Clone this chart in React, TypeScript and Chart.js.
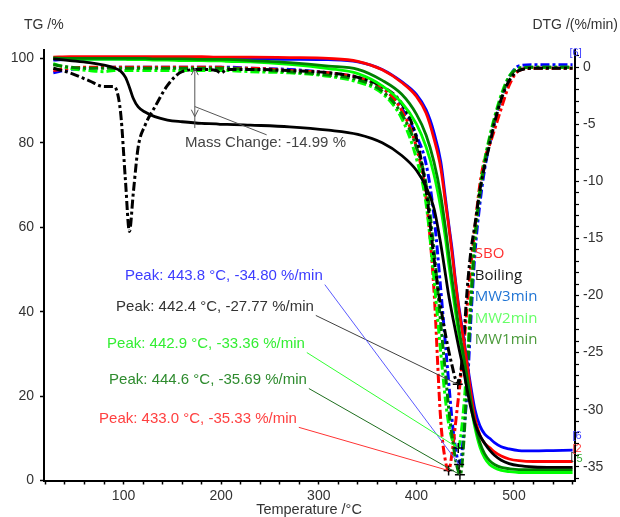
import React, { useEffect, useRef } from "react";
import { Chart, registerables } from "chart.js";

Chart.register(...registerables);

// ---------- data ----------
const seriesNames = ["SBO", "Boiling", "MW3min", "MW2min", "MW1min"];

const temperatures = [28, 45, 65, 80, 90, 97, 102, 106, 110, 115, 122, 132, 145, 160, 180, 195, 200, 206, 230, 270, 310, 340, 365, 385, 400, 410, 418, 425, 430, 433, 437, 440, 443, 445, 448, 452, 456, 460, 465, 470, 475, 480, 487, 495, 505, 520, 540, 560];

const tgSBO = [100.3, 100.4, 100.4, 100.4, 100.4, 100.4, 100.4, 100.4, 100.4, 100.4, 100.4, 100.4, 100.4, 100.4, 100.4, 100.3, 100.3, 100.3, 100.3, 100.2, 100.0, 99.3, 97.3, 94.3, 91.0, 87.0, 81.0, 74.0, 65.5, 60.5, 53.0, 47.0, 41.5, 38.3, 33.8, 27.5, 20.5, 14.8, 10.8, 8.8, 7.8, 6.8, 5.8, 5.1, 4.7, 4.5, 4.5, 4.5];
const tgBoiling = [99.9, 99.5, 99.0, 98.4, 97.8, 97.0, 95.5, 93.2, 90.5, 88.5, 87.3, 86.2, 85.4, 85.0, 84.6, 84.5, 84.4, 84.4, 84.2, 83.8, 83.0, 82.0, 80.0, 77.0, 73.5, 69.5, 64.5, 56.0, 48.5, 44.0, 39.0, 35.5, 32.0, 29.8, 26.5, 21.5, 17.0, 13.5, 10.7, 8.8, 7.2, 6.0, 4.8, 4.0, 3.5, 3.2, 3.1, 3.1];
const tgMW3 = [99.6, 99.8, 99.9, 99.9, 99.9, 99.9, 99.9, 99.9, 99.9, 99.9, 99.9, 99.9, 99.9, 99.9, 99.9, 99.9, 99.9, 99.9, 99.9, 99.8, 99.7, 99.2, 97.4, 94.5, 91.5, 87.8, 82.5, 75.5, 66.5, 61.0, 54.0, 47.5, 42.0, 39.0, 34.5, 28.0, 22.0, 16.8, 13.0, 11.0, 10.0, 9.0, 8.0, 7.5, 7.1, 7.0, 7.1, 7.2];
const tgMW2 = [100.0, 99.9, 99.8, 99.8, 99.8, 99.8, 99.8, 99.7, 99.7, 99.7, 99.7, 99.6, 99.6, 99.5, 99.5, 99.4, 99.4, 99.3, 99.2, 98.6, 97.6, 96.4, 93.5, 89.5, 84.5, 79.0, 72.5, 64.5, 57.0, 51.5, 45.0, 40.0, 35.3, 32.5, 28.5, 23.0, 17.5, 12.5, 8.0, 5.3, 3.8, 3.0, 2.4, 2.1, 1.9, 1.9, 1.9, 1.9];
const tgMW1 = [100.1, 100.0, 100.0, 100.0, 100.0, 100.0, 100.0, 100.0, 100.0, 100.0, 100.0, 99.9, 99.9, 99.9, 99.8, 99.8, 99.8, 99.8, 99.5, 99.0, 98.2, 97.4, 94.8, 91.5, 86.8, 81.8, 75.5, 67.5, 59.5, 54.0, 47.0, 42.0, 37.0, 34.0, 30.0, 24.5, 18.5, 13.5, 9.0, 6.3, 4.7, 3.8, 3.1, 2.8, 2.6, 2.6, 2.6, 2.6];

const dtgSBO = [-0.3, -0.1, 0.0, 0.0, 0.0, 0.0, 0.0, 0.0, 0.0, 0.0, 0.0, 0.0, 0.0, 0.0, 0.0, 0.0, 0.0, -0.1, -0.1, -0.3, -0.5, -0.9, -1.8, -3.8, -7.0, -11.5, -19.5, -31.0, -34.6, -35.33, -33.5, -31.3, -29.0, -27.5, -25.0, -21.0, -17.3, -14.0, -10.3, -8.0, -6.8, -5.5, -3.6, -1.6, -0.3, -0.1, -0.1, -0.1];
const dtgBoiling = [-0.1, -0.5, -1.2, -1.7, -1.7, -4.0, -10.0, -14.4, -11.0, -7.0, -5.1, -3.5, -1.6, -0.4, -0.2, -0.3, -0.5, -0.2, -0.2, -0.3, -0.5, -0.9, -1.7, -3.2, -6.2, -10.8, -16.7, -21.0, -23.5, -24.8, -26.3, -27.3, -27.77, -27.0, -24.5, -19.5, -16.0, -13.8, -10.8, -8.6, -6.8, -4.9, -2.8, -1.2, -0.3, -0.1, -0.1, -0.1];
const dtgMW3 = [-0.5, -0.2, -0.1, 0.0, 0.0, 0.0, 0.0, 0.0, 0.0, 0.0, 0.0, 0.0, 0.0, 0.0, 0.0, 0.0, 0.0, 0.0, -0.1, -0.2, -0.5, -0.9, -1.8, -3.6, -6.0, -8.5, -13.0, -19.5, -24.5, -27.5, -31.3, -33.3, -34.6, -34.7, -32.5, -28.3, -21.8, -16.3, -12.0, -8.9, -6.7, -4.8, -2.7, -0.9, 0.1, 0.2, 0.2, 0.2];
const dtgMW2 = [0.3, -0.1, -0.3, -0.4, -0.3, -0.3, -0.3, -0.3, -0.3, -0.3, -0.3, -0.3, -0.3, -0.3, -0.3, -0.3, -0.3, -0.3, -0.4, -0.5, -0.8, -1.3, -2.3, -4.5, -8.0, -12.0, -18.5, -25.0, -29.3, -31.2, -32.7, -33.2, -33.36, -32.6, -30.3, -25.8, -20.0, -14.8, -10.8, -8.1, -6.1, -4.4, -2.4, -0.8, -0.1, 0.0, 0.0, 0.0];
const dtgMW1 = [0.2, 0.0, -0.1, -0.1, -0.1, -0.1, -0.1, -0.1, -0.1, -0.1, -0.1, -0.1, -0.1, -0.1, -0.1, -0.1, -0.1, -0.1, -0.2, -0.4, -0.7, -1.1, -2.1, -4.1, -7.0, -10.3, -16.0, -22.5, -27.0, -29.8, -32.6, -34.3, -35.4, -35.69, -33.5, -27.3, -20.5, -15.2, -11.2, -8.4, -6.3, -4.6, -2.6, -0.9, -0.1, 0.0, 0.0, 0.0];

const peakTemps = [433.0, 442.4, 443.8, 442.9, 444.6];
const peakValues = [-35.33, -27.77, -34.8, -33.36, -35.69];

const massChangeTemp = 173;
const massChangeValue = -14.99;

const xTickValues = [20, 40, 60, 80, 100, 120, 140, 160, 180, 200, 220, 240, 260, 280, 300, 320, 340, 360, 380, 400, 420, 440, 460, 480, 500, 520, 540, 560];
const tgTickValues = [0, 20, 40, 60, 80, 100];
const dtgTickValues = [-36, -35, -34, -33, -32, -31, -30, -29, -28, -27, -26, -25, -24, -23, -22, -21, -20, -19, -18, -17, -16, -15, -14, -13, -12, -11, -10, -9, -8, -7, -6, -5, -4, -3, -2, -1, 0, 1];

// ---------- styles ----------
const FONT = "'Liberation Sans', Arial, sans-serif";
const LEGEND_FONT = "'Open Sans', 'Liberation Sans', sans-serif";
const lineColors = ["#ff0000", "#000000", "#0000ff", "#00ff00", "#008000"];
const peakTextColors = ["#ff4040", "#333333", "#3c3cff", "#33ee33", "#2e8b2e"];
const leaderColors = ["#ff3333", "#404040", "#5a5aff", "#33ff33", "#1e6e1e"];
const legendColors = ["#ff3030", "#1a1a1a", "#1f74d4", "#66ff66", "#4a9a3a"];
// label anchors (data units: temperature, DTG)
const labelAnchorT = [74.9, 92.3, 101.5, 83.1, 85.2];
const labelAnchorD = [-30.8, -21.0, -18.3, -24.25, -27.4];

const tgSeries = [tgSBO, tgBoiling, tgMW3, tgMW2, tgMW1];
const dtgSeries = [dtgSBO, dtgBoiling, dtgMW3, dtgMW2, dtgMW1];

const toPoints = (vals: number[]) => temperatures.map((t, i) => ({ x: t, y: vals[i] }));

const overlayPlugin = {
  id: "overlay",
  afterDatasetsDraw(chart: any) {
    const { ctx, scales } = chart;
    const sx = scales.x;
    const sT = scales.yTG;
    const sD = scales.yDTG;
    ctx.save();

    // Peak labels with leader lines
    ctx.font = `15px ${FONT}`;
    ctx.textBaseline = "middle";
    ctx.textAlign = "left";
    for (let i = 0; i < peakTemps.length; i++) {
      const text = `Peak: ${peakTemps[i].toFixed(1)} °C, ${peakValues[i].toFixed(2)} %/min`;
      const lx = sx.getPixelForValue(labelAnchorT[i]);
      const ly = sD.getPixelForValue(labelAnchorD[i]);
      ctx.fillStyle = peakTextColors[i];
      ctx.fillText(text, lx, ly);
      const w = ctx.measureText(text).width;
      ctx.strokeStyle = leaderColors[i];
      ctx.lineWidth = 1;
      ctx.beginPath();
      ctx.moveTo(lx + w + 2, ly + 8.5);
      ctx.lineTo(sx.getPixelForValue(peakTemps[i]), sD.getPixelForValue(peakValues[i]));
      ctx.stroke();
    }

    // Mass change annotation
    const mx = sx.getPixelForValue(massChangeTemp);
    const yTop = sT.getPixelForValue(97.7);
    const yTip = sT.getPixelForValue(86.2);
    const yEnd = sT.getPixelForValue(83.5);
    ctx.strokeStyle = "#555";
    ctx.lineWidth = 1;
    ctx.beginPath();
    ctx.moveTo(mx, yTop);
    ctx.lineTo(mx, yEnd);
    ctx.moveTo(mx - 3.5, yTop + 7);
    ctx.lineTo(mx, yTop);
    ctx.lineTo(mx + 3.5, yTop + 7);
    ctx.moveTo(mx - 3.5, yTip - 7);
    ctx.lineTo(mx, yTip);
    ctx.lineTo(mx + 3.5, yTip - 7);
    ctx.moveTo(mx, sT.getPixelForValue(88.6));
    ctx.lineTo(sx.getPixelForValue(246.6), sT.getPixelForValue(81.9));
    ctx.stroke();
    ctx.fillStyle = "#444";
    ctx.font = `15px ${FONT}`;
    ctx.fillText(`Mass Change: ${massChangeValue.toFixed(2)} %`, sx.getPixelForValue(163), sT.getPixelForValue(79.9));

    // Legend texts
    ctx.font = `15px ${LEGEND_FONT}`;
    const legX = sx.getPixelForValue(459.8);
    const legY = sD.getPixelForValue(-16.35);
    seriesNames.forEach((name, i) => {
      ctx.fillStyle = legendColors[i];
      ctx.fillText(name, legX, legY + i * 21.5);
    });

    // small end tags
    ctx.font = `11px ${FONT}`;
    const endX = sx.getPixelForValue(560);
    ctx.fillStyle = "#3c3cff";
    ctx.fillText("[6", endX, sT.getPixelForValue(10.5));
    ctx.fillText("[6]", endX - 3, sD.getPixelForValue(1.2));
    ctx.fillStyle = "#ff4040";
    ctx.fillText("[2", endX, sT.getPixelForValue(7.5));
    ctx.fillStyle = "#333";
    ctx.fillText("[", endX - 2, sT.getPixelForValue(5.5));
    ctx.fillStyle = "#33aa33";
    ctx.fillText("5", endX + 4, sT.getPixelForValue(5.0));

    ctx.restore();
  },
  afterDraw(chart: any) {
    const { ctx } = chart;
    ctx.save();
    ctx.fillStyle = "#333";
    ctx.textBaseline = "middle";
    ctx.font = `14px ${FONT}`;
    ctx.textAlign = "left";
    ctx.fillText("TG /%", 24, 25);
    ctx.textAlign = "right";
    ctx.fillText("DTG /(%/min)", chart.width - 2, 25);
    ctx.textAlign = "center";
    ctx.font = `14.5px ${FONT}`;
    ctx.fillText("Temperature /°C", 309, 510);
    ctx.restore();
  },
};

export default function App() {
  const canvasRef = useRef<HTMLCanvasElement | null>(null);

  useEffect(() => {
    if (!canvasRef.current) return;
    const tgOrder = [1, 4, 3, 0, 2];
    const datasets: any[] = [];
    datasets.push({
      type: "scatter",
      label: "Peaks",
      data: peakTemps.map((t, i) => ({ x: t, y: peakValues[i] })),
      yAxisID: "yDTG",
      pointStyle: "cross",
      pointRadius: 5,
      pointBorderWidth: 1.5,
      borderColor: "#000",
      backgroundColor: "#000",
      showLine: false,
    });
    tgOrder.forEach((i) => {
      datasets.push({
        label: seriesNames[i] + " TG",
        data: toPoints(tgSeries[i]),
        yAxisID: "yTG",
        borderColor: lineColors[i],
        borderWidth: 2.8,
        pointRadius: 0,
        cubicInterpolationMode: "monotone",
        fill: false,
      });
    });
    tgOrder.forEach((i) => {
      datasets.push({
        label: seriesNames[i] + " DTG",
        data: toPoints(dtgSeries[i]),
        yAxisID: "yDTG",
        borderColor: lineColors[i],
        borderWidth: 3,
        borderDash: [9, 3, 3, 3],
        pointRadius: 0,
        cubicInterpolationMode: "monotone",
        fill: false,
      });
    });

    const tickFont = { family: FONT, size: 14 };
    const chart = new Chart(canvasRef.current, {
      type: "line",
      data: { datasets },
      options: {
        animation: false,
        responsive: false,
        maintainAspectRatio: false,
        devicePixelRatio: 1,
        layout: { padding: { top: 50, left: 0, right: 0, bottom: 0 } },
        plugins: { legend: { display: false }, tooltip: { enabled: false }, title: { display: false } },
        scales: {
          x: {
            type: "linear",
            min: 18.5,
            max: 562.5,
            afterBuildTicks: (s: any) => {
              s.ticks = xTickValues.map((v) => ({ value: v }));
            },
            afterFit: (s: any) => {
              s.height = 36.5;
            },
            ticks: {
              autoSkip: false,
              maxRotation: 0,
              padding: 3,
              color: "#333",
              font: tickFont,
              callback: (v: any) => (Number(v) % 100 === 0 ? String(v) : ""),
            },
            grid: { drawOnChartArea: false, drawTicks: true, tickLength: 4, tickColor: "#000", tickWidth: 1.5 },
            border: { display: true, color: "#000", width: 2 },
          },
          yTG: {
            type: "linear",
            position: "left",
            min: 0,
            max: 102,
            afterBuildTicks: (s: any) => {
              s.ticks = tgTickValues.map((v) => ({ value: v }));
            },
            afterFit: (s: any) => {
              s.width = 44;
            },
            ticks: { padding: 6, color: "#333", font: tickFont, autoSkip: false },
            grid: { drawOnChartArea: false, drawTicks: true, tickLength: 4, tickColor: "#000", tickWidth: 1.5 },
            border: { display: true, color: "#000", width: 2 },
          },
          yDTG: {
            type: "linear",
            position: "right",
            min: -36.2,
            max: 1.5,
            afterBuildTicks: (s: any) => {
              s.ticks = dtgTickValues.map((v) => ({ value: v }));
            },
            afterFit: (s: any) => {
              s.width = 45;
            },
            ticks: {
              padding: 4,
              color: "#333",
              font: tickFont,
              autoSkip: false,
              callback: (v: any) => (Number(v) % 5 === 0 ? String(v) : ""),
            },
            grid: { drawOnChartArea: false, drawTicks: true, tickLength: 4, tickColor: "#000", tickWidth: 1.2 },
            border: { display: true, color: "#000", width: 2 },
          },
        },
      },
      plugins: [overlayPlugin],
    } as any);
    return () => chart.destroy();
  }, []);

  return (
    <div style={{ position: "absolute", left: 0, top: 0, width: 620, height: 517, background: "#fff" }}>
      <canvas ref={canvasRef} width={620} height={517} />
    </div>
  );
}
